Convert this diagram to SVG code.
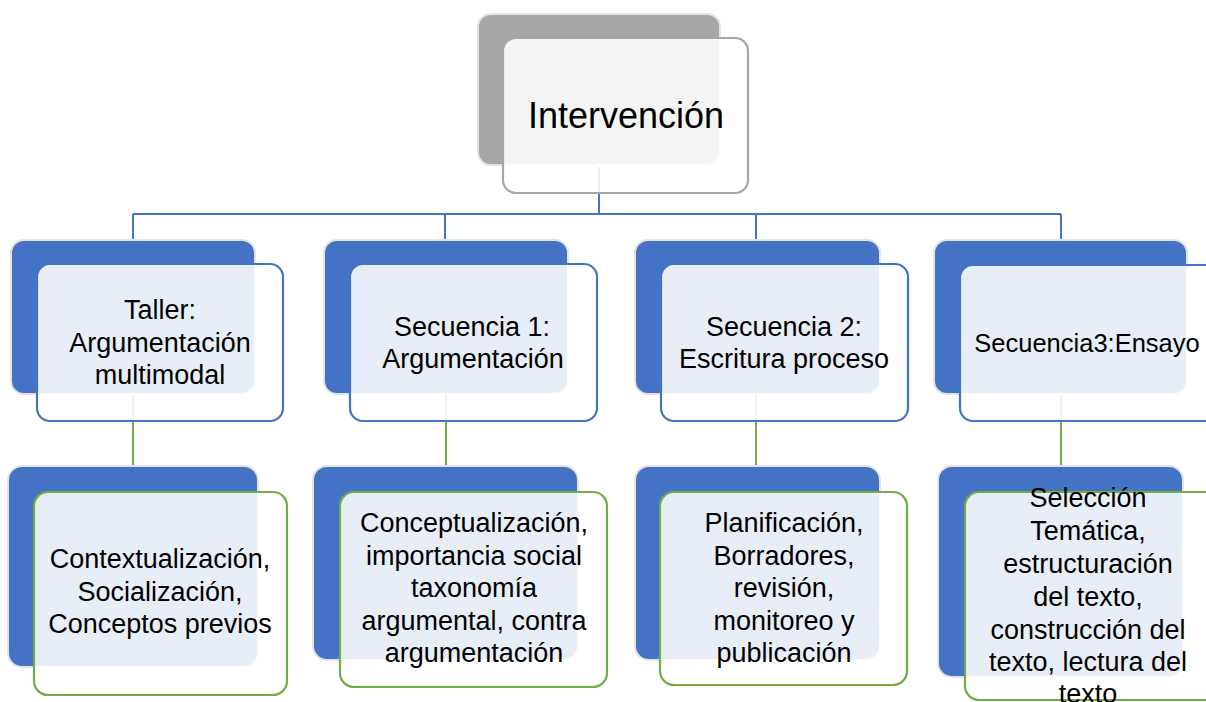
<svg xmlns="http://www.w3.org/2000/svg" width="1206" height="702" viewBox="0 0 1206 702">
<style>
.back{fill:#4472C4;stroke:#E3E3E3;stroke-width:2}
.backg{fill:#A6A6A6;stroke:#E3E3E3;stroke-width:2}
.front{fill:#FFFFFF;fill-opacity:0.88;stroke-width:2.2}
.fb{stroke:#4472C4}
.fg{stroke:#70AD47}
.fgr{stroke:#A6A6A6}
.c1{stroke:#4472C4;stroke-width:2;fill:none}
.c2{stroke:#70AD47;stroke-width:2;fill:none}
text{font-family:"Liberation Sans",Arial,sans-serif;fill:#000;text-anchor:middle}
.t1{font-size:27px}
.t0{font-size:36px}
</style>
<g id="connectors">
<path class="c1" d="M599 167 V214 M133 214 H1061 M133 214 V240 M445 214 V240 M756 214 V240 M1061 214 V240"/>
<path class="c2" d="M133 394 V466 M446 394 V466 M756 394 V466 M1061 394 V466"/>
</g>
<g id="n0">
<rect class="backg" x="478" y="14" width="242" height="151" rx="13"/>
<rect class="front fgr" x="503" y="38" width="245" height="155" rx="13"/>
<text class="t0" x="626" y="128">Intervención</text>
</g>
<g id="n1">
<rect class="back" x="11" y="240" width="244" height="154" rx="13"/>
<rect class="front fb" x="37" y="264" width="246" height="157" rx="13"/>
<text class="t1" x="160" y="319">Taller:</text>
<text class="t1" x="160" y="352">Argumentación</text>
<text class="t1" x="160" y="384">multimodal</text>
</g>
<g id="n2">
<rect class="back" x="324" y="240" width="244" height="154" rx="13"/>
<rect class="front fb" x="350" y="264" width="247" height="157" rx="13"/>
<text class="t1" x="472" y="336">Secuencia 1:</text>
<text class="t1" x="473" y="368">Argumentación</text>
</g>
<g id="n3">
<rect class="back" x="635" y="240" width="245" height="154" rx="13"/>
<rect class="front fb" x="661" y="264" width="247" height="157" rx="13"/>
<text class="t1" x="784" y="336">Secuencia 2:</text>
<text class="t1" x="784" y="368">Escritura proceso</text>
</g>
<g id="n4">
<rect class="back" x="934" y="240" width="253" height="154" rx="13"/>
<rect class="front fb" x="960" y="265" width="260" height="156" rx="13"/>
<text class="t1" x="1087" y="352" style="font-size:25.5px">Secuencia3:Ensayo</text>
</g>
<g id="n5">
<rect class="back" x="8" y="466" width="250" height="201" rx="14"/>
<rect class="front fg" x="34" y="492" width="253" height="203" rx="14"/>
<text class="t1" x="160" y="568">Contextualización,</text>
<text class="t1" x="160" y="601">Socialización,</text>
<text class="t1" x="160" y="633">Conceptos previos</text>
</g>
<g id="n6">
<rect class="back" x="313" y="466" width="265" height="194" rx="14"/>
<rect class="front fg" x="340" y="492" width="267" height="195" rx="14"/>
<text class="t1" x="474" y="532">Conceptualización,</text>
<text class="t1" x="474" y="565">importancia social</text>
<text class="t1" x="474" y="597">taxonomía</text>
<text class="t1" x="474" y="630">argumental, contra</text>
<text class="t1" x="474" y="662">argumentación</text>
</g>
<g id="n7">
<rect class="back" x="635" y="466" width="245" height="194" rx="14"/>
<rect class="front fg" x="660" y="492" width="247" height="193" rx="14"/>
<text class="t1" x="784" y="532">Planificación,</text>
<text class="t1" x="784" y="565">Borradores,</text>
<text class="t1" x="784" y="597">revisión,</text>
<text class="t1" x="784" y="630">monitoreo y</text>
<text class="t1" x="784" y="662">publicación</text>
</g>
<g id="n8">
<rect class="back" x="938" y="466" width="245" height="211" rx="14"/>
<rect class="front fg" x="965" y="492" width="260" height="208" rx="14"/>
<text class="t1" x="1088" y="507">Selección</text>
<text class="t1" x="1088" y="540">Temática,</text>
<text class="t1" x="1088" y="573">estructuración</text>
<text class="t1" x="1088" y="606">del texto,</text>
<text class="t1" x="1088" y="639">construcción del</text>
<text class="t1" x="1088" y="671">texto, lectura del</text>
<text class="t1" x="1088" y="703">texto</text>
</g>
</svg>
